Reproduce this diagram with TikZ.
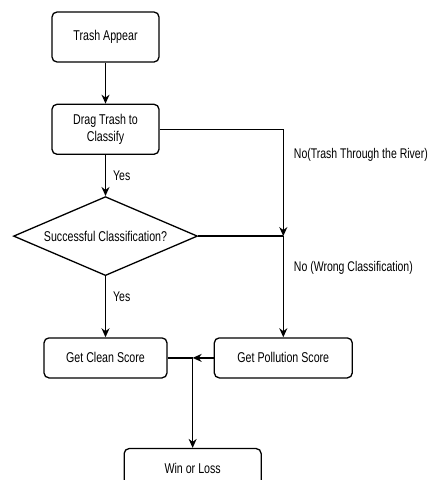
\documentclass[tikz,border=0pt]{standalone}
\usepackage{fontspec}
\setmainfont{Liberation Sans}[FakeStretch=0.75]
\usepackage{tikz}
\usetikzlibrary{arrows.meta,positioning,shapes.geometric}
\tikzset{
  paso/.style={draw,rounded corners=5pt,line width=1.3pt,align=center,minimum width=107pt,minimum height=50pt,inner sep=2pt},
  decision/.style={draw,diamond,line width=1.3pt,aspect=2.3,inner sep=0pt,minimum width=184pt,minimum height=79pt},
  flecha/.style={line width=1.3pt,-{Stealth[length=9pt,width=8pt]}},
  linea/.style={line width=1.3pt},
  etiqueta/.style={font=\fontsize{14}{17}\selectfont,inner sep=0pt}
}
\begin{document}
\begin{tikzpicture}[x=1pt,y=-1pt,font=\fontsize{14.2}{17}\selectfont]
\useasboundingbox (0,0) rectangle (431,480);
\node[paso] (aparece) at (105.5,37) {Trash Appear};
\node[paso,below=41pt of aparece] (arrastra) {Drag Trash to\\Classify};
\node[decision,below=41pt of arrastra] (clasifica) {Successful Classification?};
\node[paso,minimum width=123pt,minimum height=40pt,below=61pt of clasifica] (limpio) {Get Clean Score};
\node[paso,minimum width=138pt,minimum height=40pt,right=46pt of limpio] (contamina) {Get Pollution Score};
\coordinate (union) at ([xshift=25pt]limpio.east);
\coordinate (cruce) at (contamina.north |- clasifica.east);
\node[paso,minimum width=137pt,minimum height=40pt,below=90pt of union] (final) {Win or Loss};

\draw[flecha] (aparece) -- (arrastra);
\draw[flecha] (arrastra) -- node[etiqueta,right=7pt] {Yes} (clasifica);
\draw[flecha] (arrastra.east) -| node[etiqueta,right=10pt,pos=0.62] {No(Trash Through the River)} (cruce);
\draw[linea] (clasifica.east) -- (cruce);
\draw[flecha] (cruce) -- node[etiqueta,right=10pt,pos=0.31] {No (Wrong Classification)} (contamina);
\draw[flecha] (clasifica) -- node[etiqueta,right=7pt,pos=0.34] {Yes} (limpio);
\draw[flecha] (contamina) -- (union);
\draw[linea] (limpio.east) -- (union);
\draw[flecha] (union) -- (final);
\end{tikzpicture}
\end{document}
